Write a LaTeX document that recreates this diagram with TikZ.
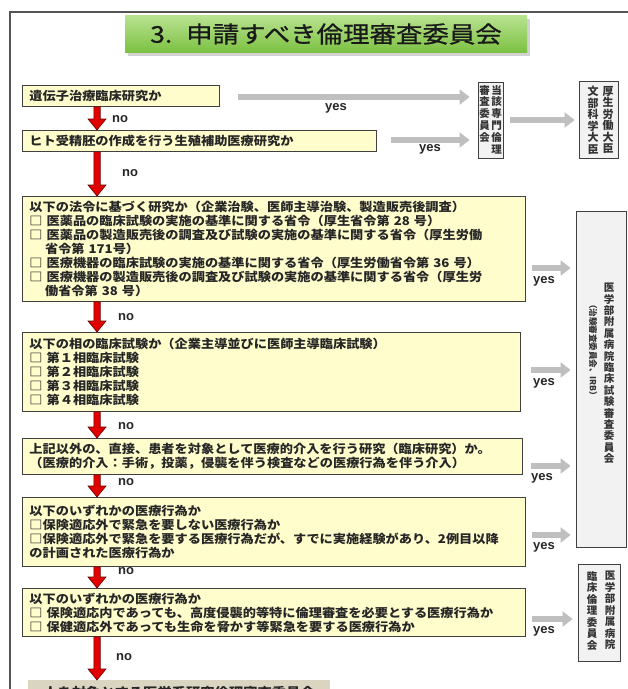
\documentclass[tikz,border=0pt]{standalone}
\usepackage{fontspec}
\usepackage{graphicx}
\usetikzlibrary{arrows.meta,calc,shadows}
\newfontfamily\jp{Noto Sans CJK JP}[FakeStretch=1.1]
\newfontfamily\jpt{Noto Sans CJK JP}[FakeStretch=1.15,FakeBold=0.8]
\newfontfamily\jpv{Noto Sans CJK JP}
\newfontfamily\arl{Liberation Sans}
\definecolor{yfill}{HTML}{FFFDCC}
\definecolor{vfill}{HTML}{F2F2F2}
\definecolor{bfill}{HTML}{D9D5C1}
\definecolor{arrgray}{HTML}{BFBFBF}
\definecolor{arrred}{HTML}{E00000}
\definecolor{arrdark}{HTML}{6B0000}
\definecolor{frame}{HTML}{555555}
\definecolor{gtop}{HTML}{B8E290}
\definecolor{gbot}{HTML}{7CC142}
\newcommand\redarr[2]{\filldraw[redarr] let \p1=(#1), \p2=(#2) in
  (\x1-3.2pt,\y1) -- (\x1-3.2pt,\y2+11pt) -- (\x1-9pt,\y2+11pt) -- (\x1,\y2)
  -- (\x1+9pt,\y2+11pt) -- (\x1+3.2pt,\y2+11pt) -- (\x1+3.2pt,\y1) -- cycle;}
\begin{document}
\begin{tikzpicture}[x=1pt,y=-1pt,
  ybox/.style={draw=black!75, line width=0.9pt, fill=yfill, anchor=north west,
    inner xsep=7pt, inner ysep=2pt, align=left,
    font=\jp\bfseries\fontsize{12}{14}\selectfont, text=black!85},
  vbox/.style={draw=black!75, line width=0.9pt, fill=vfill, inner sep=0pt},
  vtxt/.style={inner sep=0pt, align=center, text=black!80, anchor=north},
  grayarr/.style={draw=arrgray, line width=5.5pt, -{Triangle[width=15pt,length=10pt]}},
  lbl/.style={font=\arl\bfseries\fontsize{13}{13}\selectfont, text=black!85, inner sep=0pt, anchor=west},
  redarr/.style={fill=arrred, draw=arrdark, line width=0.6pt}
]
\useasboundingbox (0,0) rectangle (628,689);
\clip (0,0) rectangle (628,689);
\fill[white] (0,0) rectangle (628,689);
% frame
\draw[frame, line width=1.5pt] (10,720) -- (10,12) -- (660,12);
% title
\node[top color=gtop, bottom color=gbot, minimum width=402pt, minimum height=37pt,
  drop shadow={shadow xshift=3pt, shadow yshift=-3pt, fill=black!35},
  font=\jpt\fontsize{23}{23}\selectfont, text=black!90] (title) at (326,34)
  {3.\hspace{14pt}申請すべき倫理審査委員会};
% left boxes
\node[ybox, minimum width=197pt, minimum height=21pt, text width=183pt] (b1) at (22,85) {遺伝子治療臨床研究か};
\node[ybox, minimum width=354pt, minimum height=21pt, text width=340pt] (b2) at (22,130) {ヒト受精胚の作成を行う生殖補助医療研究か};
\node[ybox, minimum width=503pt, minimum height=105pt, text width=489pt] (b3) at (22,196) {%
以下の法令に基づく研究か（企業治験、医師主導治験、製造販売後調査）\\
□ 医薬品の臨床試験の実施の基準に関する省令（厚生省令第 28 号）\\
□ 医薬品の製造販売後の調査及び試験の実施の基準に関する省令（厚生労働\\
\hspace*{1.3em}省令第 171号）\\
□ 医療機器の臨床試験の実施の基準に関する省令（厚生労働省令第 36 号）\\
□ 医療機器の製造販売後の調査及び試験の実施の基準に関する省令（厚生労\\
\hspace*{1.3em}働省令第 38 号）};
\node[ybox, minimum width=498pt, minimum height=79pt, text width=484pt] (b4) at (22,332) {%
以下の相の臨床試験か（企業主導並びに医師主導臨床試験）\\
□ 第１相臨床試験\\
□ 第２相臨床試験\\
□ 第３相臨床試験\\
□ 第４相臨床試験};
\node[ybox, minimum width=500pt, minimum height=36pt, text width=486pt] (b5) at (22,438) {%
上記以外の、直接、患者を対象として医療的介入を行う研究（臨床研究）か。\\
（医療的介入：手術，投薬，侵襲を伴う検査などの医療行為を伴う介入）};
\node[ybox, minimum width=503pt, minimum height=69pt, text width=489pt] (b6) at (22,497) {%
以下のいずれかの医療行為か\\
□保険適応外で緊急を要しない医療行為か\\
□保険適応外で緊急を要する医療行為だが、すでに実施経験があり、2例目以降\\
の計画された医療行為か};
\node[ybox, minimum width=503pt, minimum height=48pt, text width=489pt] (b7) at (22,588) {%
以下のいずれかの医療行為か\\
□ 保険適応内であっても、高度侵襲的等特に倫理審査を必要とする医療行為か\\
□ 保健適応外であっても生命を脅かす等緊急を要する医療行為か};
\node[fill=bfill, anchor=north west, minimum width=302pt, minimum height=24pt,
  font=\jp\bfseries\fontsize{13}{13}\selectfont, text=black!85] (b8) at (28,680)
  {人を対象とする医学系研究倫理審査委員会};
% right boxes
\node[vbox, minimum width=25pt, minimum height=76pt] (v1) at (490.5,120) {};
\node[vtxt, font=\jpv\bfseries\fontsize{10.5}{11.8}\selectfont] (v1r) at (496.5,85) {当\\該\\専\\門\\倫\\理};
\node[vtxt, font=\jpv\bfseries\fontsize{10.5}{11.8}\selectfont] (v1l) at (484.5,85) {審\\査\\委\\員\\会};
\node[vbox, minimum width=39pt, minimum height=77pt] (v2) at (598.5,120) {};
\node[vtxt, font=\jpv\bfseries\fontsize{11}{11.5}\selectfont] (v2r) at (608,86) {厚\\生\\労\\働\\大\\臣};
\node[vtxt, font=\jpv\bfseries\fontsize{11}{11.5}\selectfont] (v2l) at (593,86) {文\\部\\科\\学\\大\\臣};
\node[vbox, minimum width=50pt, minimum height=336pt] (v3) at (601,379) {};
\node[vtxt, font=\jpv\bfseries\fontsize{10.5}{11.4}\selectfont] (v3r) at (609,283) {医\\学\\部\\附\\属\\病\\院\\臨\\床\\試\\験\\審\\査\\委\\員\\会};
\node[inner sep=0pt, rotate=-90, font=\jpv\bfseries\fontsize{8.5}{8.5}\selectfont, text=black!80] (v3l) at (593,350) {（治験審査委員会、IRB）};
\node[vbox, minimum width=42pt, minimum height=97pt] (v4) at (599,613) {};
\node[vtxt, font=\jpv\bfseries\fontsize{10.5}{11.5}\selectfont] (v4r) at (610,571) {医\\学\\部\\附\\属\\病\\院};
\node[vtxt, font=\jpv\bfseries\fontsize{10.5}{11.5}\selectfont] (v4l) at (592,571) {臨\\床\\倫\\理\\委\\員\\会};
% red arrows
\coordinate (xa) at (97,0);
\redarr{b1.south -| xa}{b2.north -| xa}
\redarr{b2.south -| xa}{b3.north -| xa}
\redarr{b3.south -| xa}{b4.north -| xa}
\redarr{b4.south -| xa}{b5.north -| xa}
\redarr{b5.south -| xa}{b6.north -| xa}
\redarr{b6.south -| xa}{b7.north -| xa}
\redarr{b7.south -| xa}{b8.north -| xa}
\node[lbl] (n1) at (112,119) {no};
\node[lbl] (n2) at (122,173) {no};
\node[lbl] (n3) at (118,317) {no};
\node[lbl] (n4) at (118,426) {no};
\node[lbl] (n5) at (118,482) {no};
\node[lbl] (n6) at (118,571) {no};
\node[lbl] (n7) at (116,657) {no};
% gray arrows
\coordinate (y0) at (0,120);
\coordinate (y1) at (0,97);
\coordinate (y2) at (0,140);
\coordinate (y3) at (0,268);
\coordinate (y4) at (0,370);
\coordinate (y5) at (0,466);
\coordinate (y6) at (0,535);
\coordinate (y7) at (0,619);
\draw[grayarr, shorten <=18pt, shorten >=8pt] (b1.east |- y1) -- (v1.west |- y1);
\draw[grayarr, shorten <=14pt, shorten >=8pt] (b2.east |- y2) -- (v1.west |- y2);
\draw[grayarr, shorten <=7pt, shorten >=4pt] (v1.east |- y0) -- (v2.west |- y0);
\draw[grayarr, shorten <=6pt, shorten >=5pt] (b3.east |- y3) -- (v3.west |- y3);
\draw[grayarr, shorten <=10pt, shorten >=5pt] (b4.east |- y4) -- (v3.west |- y4);
\draw[grayarr, shorten <=8pt, shorten >=5pt] (b5.east |- y5) -- (v3.west |- y5);
\draw[grayarr, shorten <=6pt, shorten >=5pt] (b6.east |- y6) -- (v3.west |- y6);
\draw[grayarr, shorten <=6pt, shorten >=5pt] (b7.east |- y7) -- (v4.west |- y7);
\node[lbl] (ys1) at (325,108) {yes};
\node[lbl] (ys2) at (419,149) {yes};
\node[lbl] (ys3) at (533,281) {yes};
\node[lbl] (ys4) at (533,383) {yes};
\node[lbl] (ys5) at (531,478) {yes};
\node[lbl] (ys6) at (533,547) {yes};
\node[lbl] (ys7) at (533,631) {yes};
\end{tikzpicture}
\end{document}
